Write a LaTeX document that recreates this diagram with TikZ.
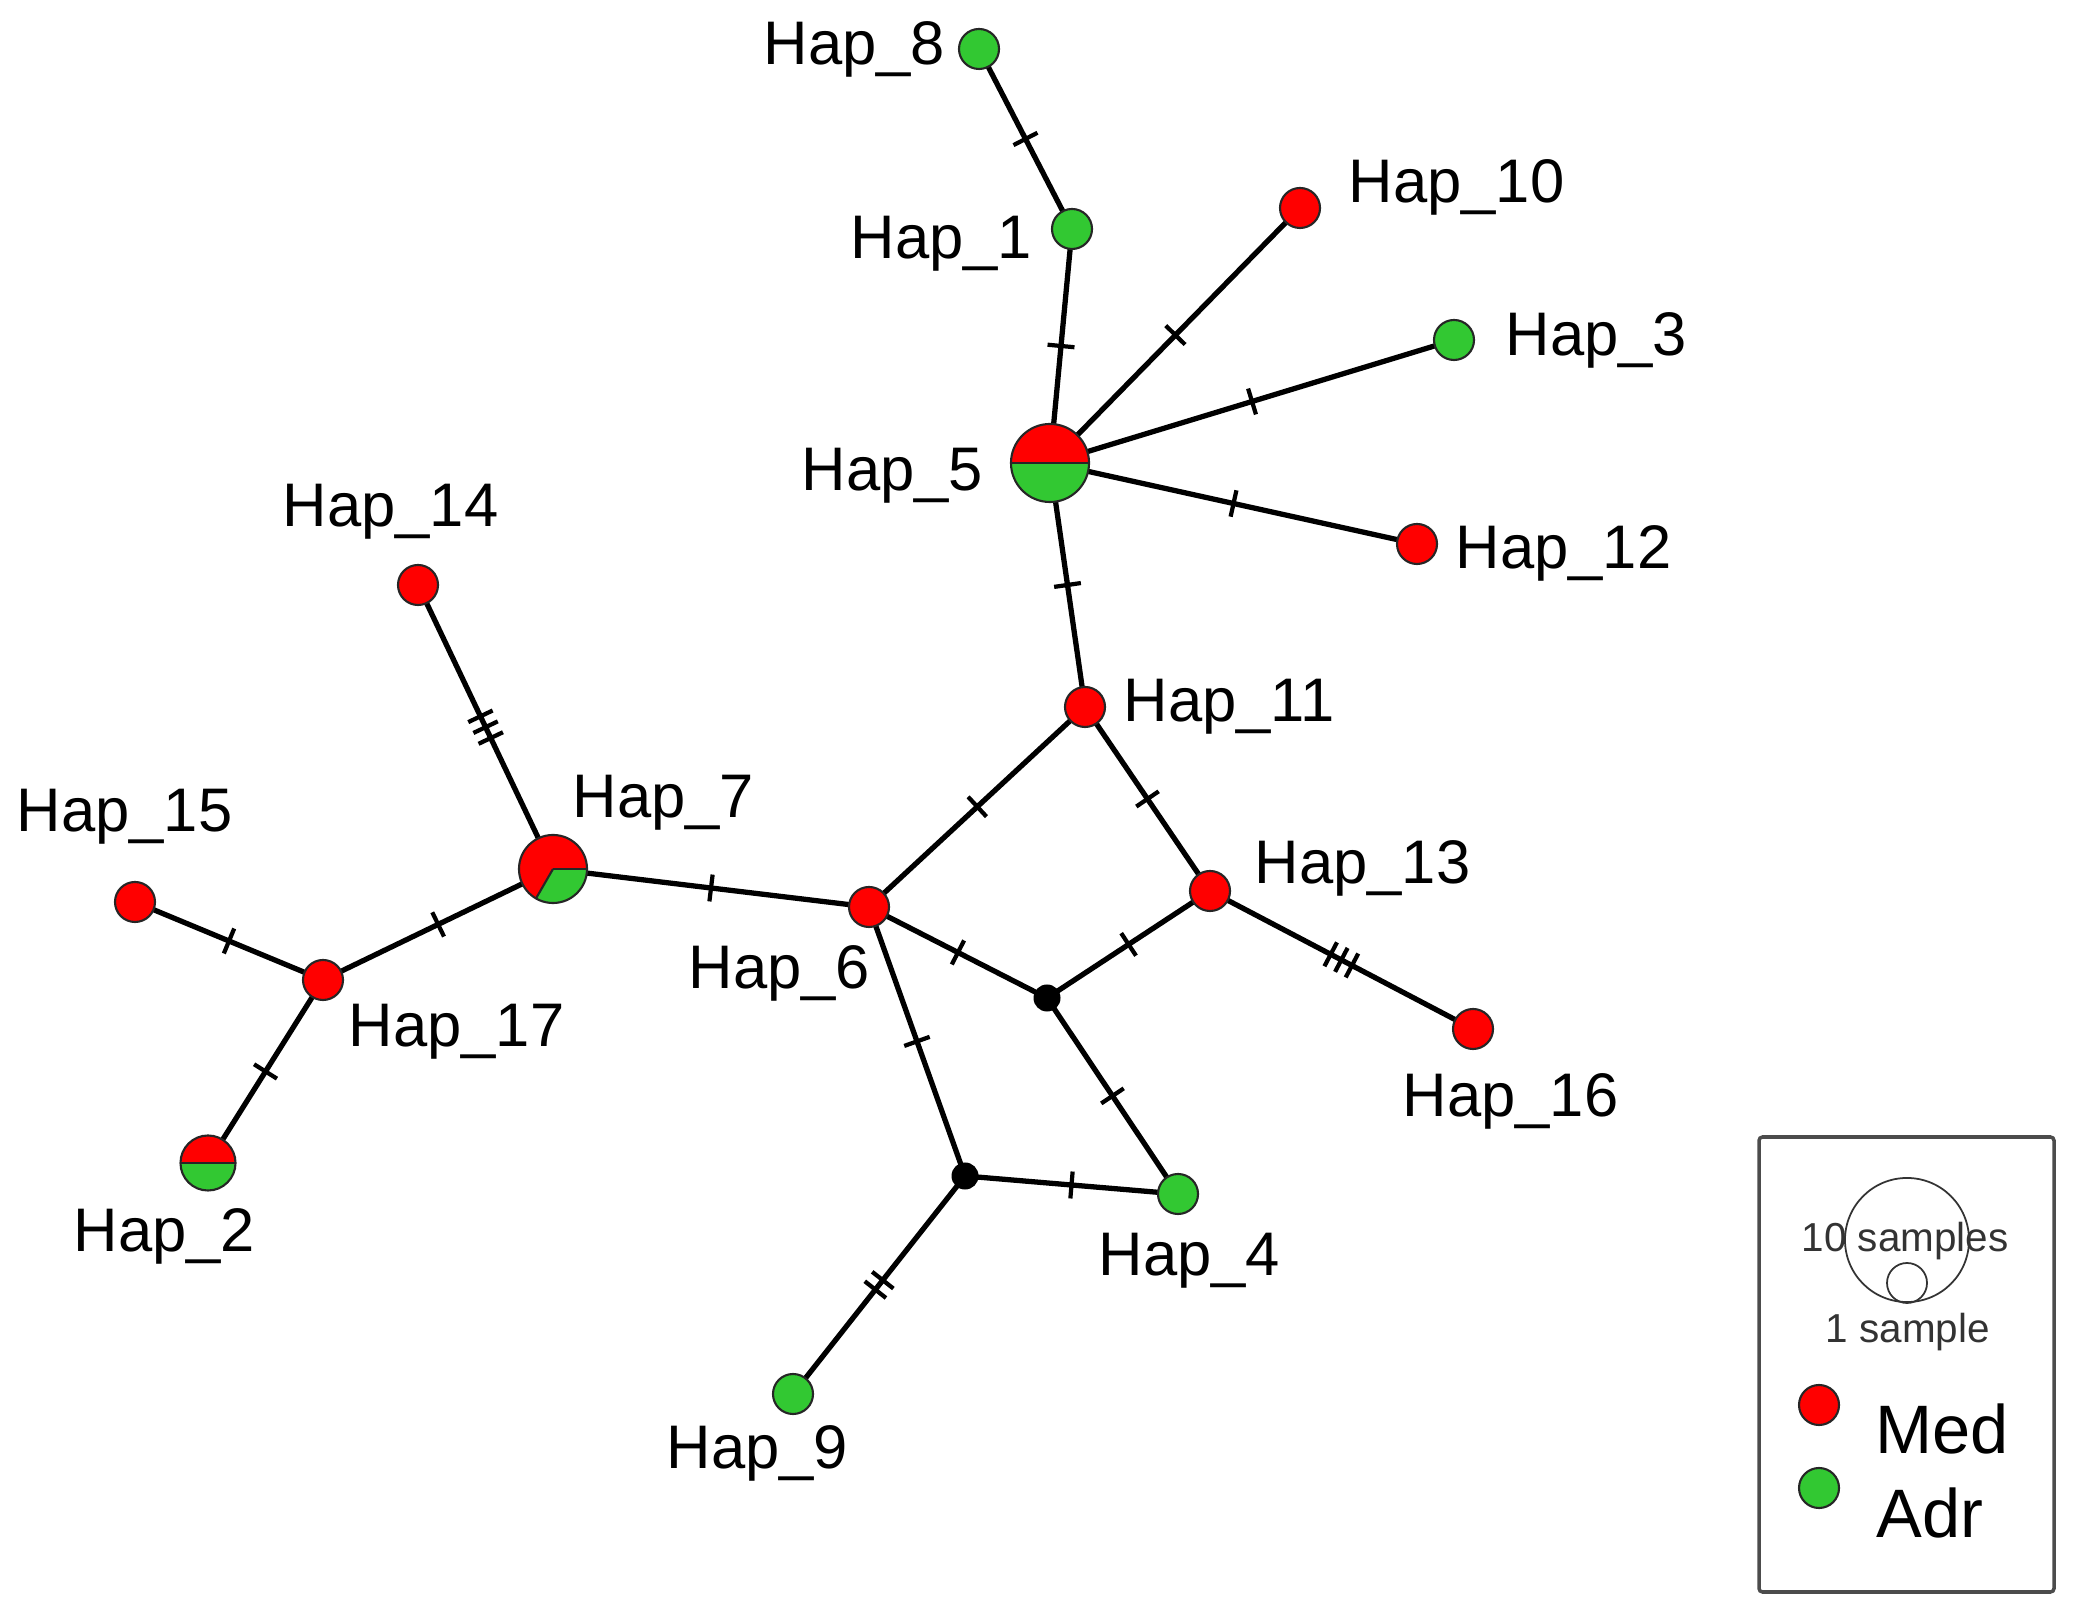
\documentclass[tikz,border=0pt]{standalone}
\usepackage{fontspec}
\setmainfont{Liberation Sans}
\usetikzlibrary{decorations.markings}
\definecolor{medred}{RGB}{255,0,0}
\definecolor{adrgreen}{RGB}{50,200,50}
\pgfdeclarelayer{edges}
\pgfsetlayers{edges,main}

\tikzset{
  hap/.style={circle, draw=black!85, line width=0.6pt, minimum size=0.4cm, inner sep=0pt},
  med/.style={hap, fill=medred},
  adr/.style={hap, fill=adrgreen},
  mv/.style={circle, fill=black, minimum size=0.27cm, inner sep=0pt},
  hlabel/.style={anchor=base west, inner sep=0pt, font=\fontsize{17.5}{20}\selectfont},
  link/.style={line width=1.5pt},
  mut1/.style={link, postaction={decorate}, decoration={markings,
      mark=at position 0.5 with {\draw[line width=1.2pt] (0pt,-0.135cm) -- (0pt,0.135cm);}}},
  mut2/.style={link, postaction={decorate}, decoration={markings,
      mark=at position 0.5 with {\draw[line width=1.2pt] (-0.06cm,-0.135cm) -- (-0.06cm,0.135cm);
        \draw[line width=1.2pt] (0.06cm,-0.135cm) -- (0.06cm,0.135cm);}}},
  mut3/.style={link, postaction={decorate}, decoration={markings,
      mark=at position 0.5 with {\draw[line width=1.2pt] (-0.12cm,-0.135cm) -- (-0.12cm,0.135cm);
        \draw[line width=1.2pt] (0pt,-0.135cm) -- (0pt,0.135cm);
        \draw[line width=1.2pt] (0.12cm,-0.135cm) -- (0.12cm,0.135cm);}}},
  halfpie/.style={hap, fill=adrgreen, path picture={
      \fill[medred] (path picture bounding box.west) rectangle (path picture bounding box.north east);
      \draw[black!85, line width=0.6pt] (path picture bounding box.west) -- (path picture bounding box.east);}}
}

\begin{document}
\begin{tikzpicture}[x=0.01cm, y=0.01cm]
  \useasboundingbox (0,0) rectangle (2076,1612);

  % Haplotypes
  \node[adr] (hap8) at (979,1563) {};
  \node[adr] (hap1) at (1072,1383) {};
  \node[med] (hap10) at (1300,1404) {};
  \node[adr] (hap3) at (1454,1272) {};
  \node[halfpie, minimum size=0.78cm] (hap5) at (1050,1149) {};
  \node[med] (hap12) at (1417,1068) {};
  \node[med] (hap11) at (1085,905) {};
  \node[med] (hap13) at (1210,721) {};
  \node[med] (hap16) at (1473,583) {};
  \node[med] (hap6) at (869,705) {};
  \node[adr] (hap4) at (1178,418) {};
  \node[adr] (hap9) at (793,218) {};
  \node[hap, fill=medred, minimum size=0.68cm, path picture={
      \fill[adrgreen] (path picture bounding box.center) -- +(0:1cm)
        arc[start angle=0, end angle=-120, radius=1cm] -- cycle;
      \draw[black!85, line width=0.6pt] (path picture bounding box.center) -- +(0:1cm);
      \draw[black!85, line width=0.6pt] (path picture bounding box.center) -- +(-120:1cm);}]
    (hap7) at (553,743) {};
  \node[med] (hap14) at (418,1027) {};
  \node[med] (hap15) at (135,710) {};
  \node[med] (hap17) at (323,632) {};
  \node[halfpie, minimum size=0.55cm] (hap2) at (208,449) {};

  % Median vectors
  \node[mv] (mv1) at (1047,614) {};
  \node[mv] (mv2) at (965,436) {};

  % Links with mutation ticks
  \begin{pgfonlayer}{edges}
    \draw[mut1] (hap8.center) -- (hap1.center);
    \draw[mut1] (hap1.center) -- (hap5.center);
    \draw[mut1] (hap10.center) -- (hap5.center);
    \draw[mut1] (hap3.center) -- (hap5.center);
    \draw[mut1] (hap12.center) -- (hap5.center);
    \draw[mut1] (hap5.center) -- (hap11.center);
    \draw[mut1] (hap11.center) -- (hap6.center);
    \draw[mut1] (hap11.center) -- (hap13.center);
    \draw[mut3] (hap13.center) -- (hap16.center);
    \draw[mut1] (hap13.center) -- (mv1.center);
    \draw[mut1] (hap6.center) -- (mv1.center);
    \draw[mut1] (mv1.center) -- (hap4.center);
    \draw[mut1] (hap6.center) -- (mv2.center);
    \draw[mut1] (mv2.center) -- (hap4.center);
    \draw[mut2] (mv2.center) -- (hap9.center);
    \draw[mut1] (hap6.center) -- (hap7.center);
    \draw[mut3] (hap7.center) -- (hap14.center);
    \draw[mut1] (hap7.center) -- (hap17.center);
    \draw[mut1] (hap17.center) -- (hap15.center);
    \draw[mut1] (hap17.center) -- (hap2.center);
  \end{pgfonlayer}

  % Labels
  \node[hlabel] (lab8) at (763,1547) {Hap\_8};
  \node[hlabel] (lab1) at (850,1353) {Hap\_1};
  \node[hlabel] (lab10) at (1348,1409) {Hap\_10};
  \node[hlabel] (lab3) at (1505,1256) {Hap\_3};
  \node[hlabel] (lab5) at (801,1121) {Hap\_5};
  \node[hlabel] (lab12) at (1455,1043) {Hap\_12};
  \node[hlabel] (lab11) at (1123,890) {Hap\_11};
  \node[hlabel] (lab13) at (1254,728) {Hap\_13};
  \node[hlabel] (lab16) at (1402,495) {Hap\_16};
  \node[hlabel] (lab6) at (688,623) {Hap\_6};
  \node[hlabel] (lab4) at (1098,336) {Hap\_4};
  \node[hlabel] (lab9) at (666,144) {Hap\_9};
  \node[hlabel] (lab7) at (572,794) {Hap\_7};
  \node[hlabel] (lab14) at (282,1085) {Hap\_14};
  \node[hlabel] (lab15) at (16,780) {Hap\_15};
  \node[hlabel] (lab17) at (348,565) {Hap\_17};
  \node[hlabel] (lab2) at (73,360) {Hap\_2};

  % Legend
  \draw[black!70, line width=1pt, rounded corners=1pt] (1759,20) rectangle (2054,475);
  \node[circle, draw=black!80, line width=0.5pt, minimum size=1.24cm, inner sep=0pt] (ten) at (1907,372) {};
  \node[circle, draw=black!80, line width=0.5pt, minimum size=0.4cm, inner sep=0pt] (one) at (1907,329) {};
  \node[anchor=base west, inner sep=0pt, font=\fontsize{11.5}{13}\selectfont, text=black!80] (tentxt) at (1801,360) {10 samples};
  \node[anchor=base west, inner sep=0pt, font=\fontsize{11.5}{13}\selectfont, text=black!80] (onetxt) at (1825,269) {1 sample};
  \node[med] (legmed) at (1819,207) {};
  \node[adr] (legadr) at (1819,124) {};
  \node[anchor=base west, inner sep=0pt, font=\fontsize{19.5}{22}\selectfont] (medtxt) at (1875,159) {Med};
  \node[anchor=base west, inner sep=0pt, font=\fontsize{19.5}{22}\selectfont] (adrtxt) at (1876,75) {Adr};
\end{tikzpicture}
\end{document}
